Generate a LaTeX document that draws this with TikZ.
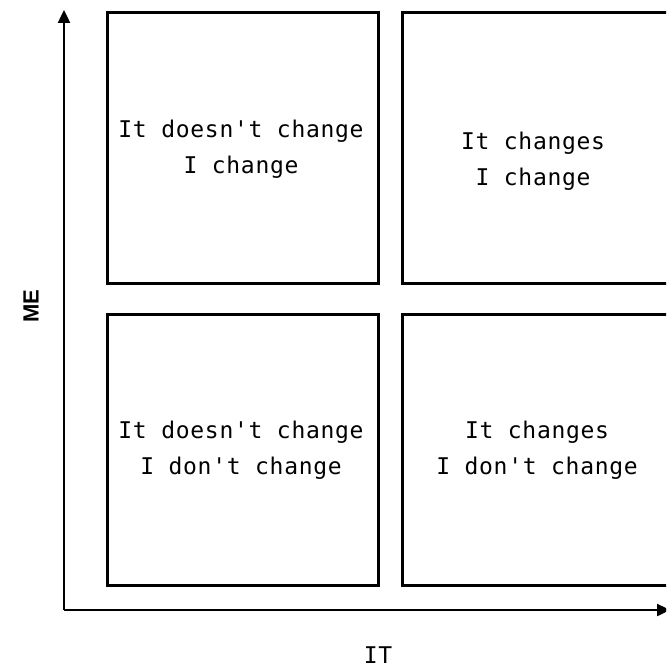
\documentclass[tikz,border=0pt]{standalone}
\usepackage{fontspec}
\setmonofont[LetterSpace=3]{DejaVu Sans Mono}
\setsansfont{Liberation Sans}
\usetikzlibrary{arrows.meta}
\begin{document}
\begin{tikzpicture}[x=1pt,y=-1pt,
  quad/.style={draw=black,line width=2.6pt,minimum width=271pt,minimum height=271pt,inner sep=0pt,anchor=north west},
  lbl/.style={font=\fontsize{23}{36}\selectfont\ttfamily,align=center},
  axis/.style={line width=2.4pt,-{Triangle[width=12pt,length=13pt]}}]
\useasboundingbox (0,0) rectangle (666,668);
\clip (0,0) rectangle (666,668);
\node[quad] (tl) at (106,11) {};
\node[quad] (tr) at (401,11) {};
\node[quad] (bl) at (106,313) {};
\node[quad] (br) at (401,313) {};
\node[lbl] (ttl) at (241,149) {It doesn't change\\I change};
\node[lbl] (ttr) at (533,161) {It changes\\I change};
\node[lbl] (tbl) at (241,450) {It doesn't change\\I don't change};
\node[lbl] (tbr) at (537,450) {It changes\\I don't change};
\coordinate (o) at (64,610);
\coordinate (ytop) at (64,10);
\coordinate (xend) at (670,610);
\draw[axis] (o) -- (ytop);
\draw[axis] (o) -- (xend);
\node[font=\fontsize{22}{24}\selectfont\sffamily\bfseries,rotate=90] (me) at (31,306) {ME};
\node[lbl] (it) at (378,655) {IT};
\end{tikzpicture}
\end{document}
